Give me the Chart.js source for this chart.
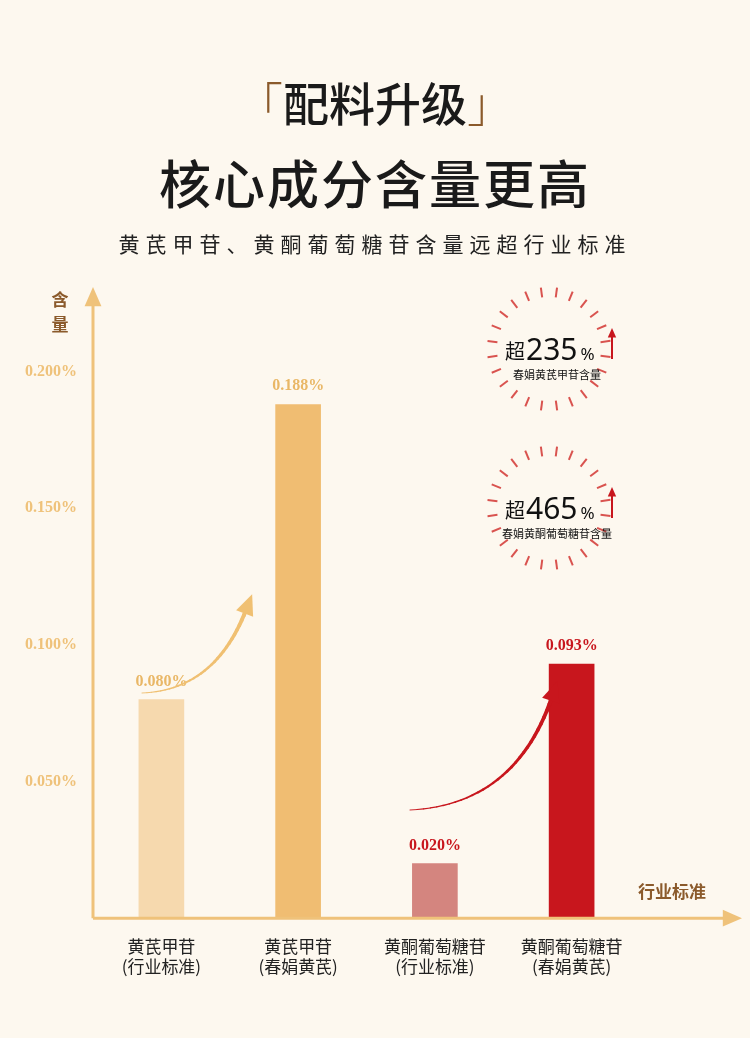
<!DOCTYPE html>
<html><head><meta charset="utf-8">
<script src="https://cdn.jsdelivr.net/npm/chart.js@4"></script>
<style>
html,body{margin:0;padding:0;background:#FDF8EF;}
#wrap{position:relative;width:750px;height:1038px;font-family:"Noto Sans CJK SC",sans-serif;}
canvas{position:absolute;left:0;top:0;}
.t{position:absolute;left:0;width:750px;text-align:center;color:#1a1a1a;}
</style></head><body>
<div id="wrap">
<canvas id="c" width="750" height="1038"></canvas>
<div class="t" style="top:68px;font-size:46px;font-weight:500;"><span style="color:#8B5A2B;font-weight:300">「</span>配料升级<span style="color:#8B5A2B;font-weight:300">」</span></div>
<div class="t" style="top:144px;font-size:52px;font-weight:500;letter-spacing:2px">核心成分含量更高</div>
<div class="t" style="top:228px;font-size:21px;letter-spacing:6px;color:#222">黄芪甲苷、黄酮葡萄糖苷含量远超行业标准</div>
</div>
<script>
const categories=[["黄芪甲苷","(行业标准)"],["黄芪甲苷","(春娟黄芪)"],["黄酮葡萄糖苷","(行业标准)"],["黄酮葡萄糖苷","(春娟黄芪)"]];
const values=[0.080,0.188,0.020,0.093];
const valueLabels=["0.080%","0.188%","0.020%","0.093%"];
const barColors=["#F6D9AE","#F0BD72","#D4857F","#C8161D"];
const labelColors=["#E9B766","#E9B766","#C8161D","#C8161D"];
const tickValues=[0.05,0.10,0.15,0.20];
const badges=[{num:"235",sub:"春娟黄芪甲苷含量"},{num:"465",sub:"春娟黄酮葡萄糖苷含量"}];
const gold="#EFC27A", brown="#8B5A2B", red="#C8161D";

function arrowHead(ctx,x,y,ang,size,color){ctx.save();ctx.translate(x,y);ctx.rotate(ang);ctx.fillStyle=color;ctx.beginPath();ctx.moveTo(size,0);ctx.lineTo(-size*0.6,size*0.7);ctx.lineTo(-size*0.6,-size*0.7);ctx.closePath();ctx.fill();ctx.restore();}
function curveArrow(ctx,x0,y0,cx,cy,x1,y1,color){
  ctx.save();ctx.strokeStyle=color;ctx.lineCap="round";
  const N=30;let px=x0,py=y0;
  for(let i=1;i<=N;i++){const t=i/N;const x=(1-t)*(1-t)*x0+2*(1-t)*t*cx+t*t*x1;const y=(1-t)*(1-t)*y0+2*(1-t)*t*cy+t*t*y1;
    ctx.lineWidth=0.8+3.2*t;ctx.beginPath();ctx.moveTo(px,py);ctx.lineTo(x,y);ctx.stroke();px=x;py=y;}
  const ang=Math.atan2(y1-cy,x1-cx);arrowHead(ctx,x1+Math.cos(ang)*4,y1+Math.sin(ang)*4,ang,13,color);ctx.restore();
}
const deco={id:'deco',afterDraw(chart){
  const ctx=chart.ctx,a=chart.chartArea;
  ctx.save();
  ctx.strokeStyle=gold;ctx.lineWidth=3;
  ctx.beginPath();ctx.moveTo(a.left,a.bottom);ctx.lineTo(a.left,a.top);ctx.stroke();
  ctx.beginPath();ctx.moveTo(a.left,a.bottom);ctx.lineTo(725,a.bottom);ctx.stroke();
  arrowHead(ctx,a.left,a.top-6,-Math.PI/2,12,gold);
  arrowHead(ctx,730,a.bottom,0,12,gold);
  ctx.fillStyle=brown;ctx.font="bold 17px 'Noto Sans CJK SC'";ctx.textAlign="center";
  ctx.fillText("含",60,306);ctx.fillText("量",60,331);
  ctx.textAlign="left";ctx.fillText("行业标准",638,898);
  const meta=chart.getDatasetMeta(0);
  ctx.font="bold 16px 'Liberation Serif'";ctx.textAlign="center";
  meta.data.forEach((b,i)=>{ctx.fillStyle=labelColors[i];ctx.fillText(valueLabels[i],b.x,b.y-14);});
  curveArrow(ctx,142,693,215,690,246,610,"#F0C072");
  curveArrow(ctx,410,810,515,805,552,697,red);
  badges.forEach((bd,k)=>{
    const cx=549,cy=349+k*159;
    ctx.strokeStyle="#D9534F";ctx.lineWidth=2;
    for(let i=0;i<24;i++){const t=i/24*Math.PI*2+0.13;const r0=52,r1=62;
      ctx.beginPath();ctx.moveTo(cx+Math.cos(t)*r0,cy+Math.sin(t)*r0);ctx.lineTo(cx+Math.cos(t)*r1,cy+Math.sin(t)*r1);ctx.stroke();}
    ctx.fillStyle="#111";ctx.textAlign="left";
    ctx.font="20px 'Noto Sans CJK SC'";ctx.fillText("超",505,cy+10);
    ctx.font="30px 'Noto Sans'";ctx.fillText(bd.num,526,cy+11);
    const w=ctx.measureText(bd.num).width;
    ctx.font="17px 'Noto Sans'";ctx.fillText("%",526+w+3,cy+11);
    ctx.strokeStyle=red;ctx.lineWidth=2;ctx.beginPath();ctx.moveTo(612,cy+10);ctx.lineTo(612,cy-12);ctx.stroke();
    arrowHead(ctx,612,cy-15,-Math.PI/2,6,red);
    ctx.textAlign="center";ctx.font="11px 'Noto Sans CJK SC'";ctx.fillText(bd.sub,557,cy+30);
  });
  ctx.restore();
}};
new Chart(document.getElementById('c'),{
  type:'bar',
  data:{labels:categories,datasets:[{data:values,backgroundColor:barColors,barThickness:45}]},
  options:{responsive:false,animation:false,devicePixelRatio:1,
    layout:{padding:{top:305,right:110,left:17,bottom:51}},
    plugins:{legend:{display:false},tooltip:{enabled:false}},
    scales:{
      x:{grid:{display:false},border:{display:false},ticks:{color:"#222",font:{size:17,family:"Noto Sans CJK SC"},maxRotation:0,padding:10}},
      y:{min:0,max:0.2244,grid:{display:false},border:{display:false},
        afterBuildTicks(s){s.ticks=tickValues.map(v=>({value:v}));},
        ticks:{color:gold,font:{size:16,weight:'bold',family:"Liberation Serif"},padding:8,callback:v=>v.toFixed(3)+"%"}}
    }},
  plugins:[deco]
});
</script></body></html>
